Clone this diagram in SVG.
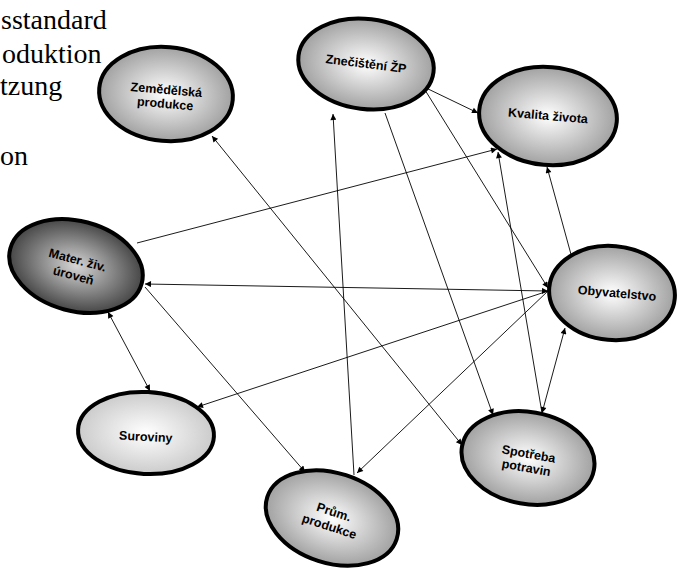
<svg xmlns="http://www.w3.org/2000/svg" width="677" height="572" viewBox="0 0 677 572">
  <style>
    .bg { fill: #ffffff; }
    .side { font-family: "Liberation Serif", "Times New Roman", serif; font-size: 28px; fill: #000; }
    .node ellipse { stroke: #000; stroke-width: 4; }
    .node text { font-family: "Liberation Sans", Arial, sans-serif; font-size: 12.5px; font-weight: bold; fill: #000; text-anchor: middle; }
    .edge { stroke: #000; stroke-width: 0.9; fill: none; marker-end: url(#arrow); }
    .both { marker-start: url(#arrow); }
  </style>
  <defs>
    <radialGradient id="gStd" cx="50%" cy="50%" r="55%">
      <stop offset="0%" stop-color="#ffffff"/>
      <stop offset="100%" stop-color="#989898"/>
    </radialGradient>
    <radialGradient id="gDark" cx="50%" cy="50%" r="55%">
      <stop offset="0%" stop-color="#d6d6d6"/>
      <stop offset="100%" stop-color="#383838"/>
    </radialGradient>
    <radialGradient id="gLight" cx="50%" cy="50%" r="55%">
      <stop offset="0%" stop-color="#ffffff"/>
      <stop offset="100%" stop-color="#c6c6c6"/>
    </radialGradient>
    <marker id="arrow" viewBox="0 0 10 10" refX="10" refY="5" markerWidth="8" markerHeight="6" markerUnits="userSpaceOnUse" orient="auto-start-reverse">
      <path d="M0,0 L10,5 L0,10 z" fill="#000"/>
    </marker>
  </defs>

  <rect class="bg" x="0" y="0" width="677" height="572"/>

  <!-- caption lines at the left edge -->
  <g id="caption">
    <text class="side" x="1" y="29">sstandard</text>
    <text class="side" x="2" y="63">oduktion</text>
    <text class="side" x="0" y="95">tzung</text>
    <text class="side" x="0" y="165">on</text>
  </g>

  <!-- connectors -->
  <g id="connectors">
    <line class="edge both" x1="462" y1="445" x2="212" y2="136"/>
    <line class="edge" x1="424" y1="87" x2="478" y2="113"/>
    <line class="edge" x1="425" y1="90" x2="548" y2="288"/>
    <line class="edge" x1="385" y1="113" x2="493" y2="415"/>
    <line class="edge" x1="354" y1="475" x2="333" y2="114"/>
    <line class="edge" x1="137" y1="243" x2="497" y2="149"/>
    <line class="edge" x1="542" y1="413" x2="498" y2="152"/>
    <line class="edge" x1="572" y1="258" x2="547" y2="167"/>
    <line class="edge both" x1="542" y1="413" x2="565" y2="328"/>
    <line class="edge both" x1="548" y1="291" x2="145" y2="284"/>
    <line class="edge" x1="145" y1="287" x2="305" y2="472"/>
    <line class="edge both" x1="108" y1="312" x2="150" y2="391"/>
    <line class="edge" x1="548" y1="291" x2="197" y2="407"/>
    <line class="edge" x1="548" y1="291" x2="357" y2="473"/>
  </g>

  <!-- nodes -->
  <g id="zemedelska-produkce" class="node" transform="translate(166,94) rotate(5)">
    <ellipse rx="67" ry="47" fill="url(#gStd)"/>
    <text x="0" y="0">Zemědělská</text>
    <text x="0" y="14">produkce</text>
  </g>

  <g id="znecisteni-zp" class="node" transform="translate(366,64) rotate(7)">
    <ellipse rx="68" ry="45" fill="url(#gStd)"/>
    <text x="0" y="4">Znečištění ŽP</text>
  </g>

  <g id="kvalita-zivota" class="node" transform="translate(548,116) rotate(5)">
    <ellipse rx="69" ry="49" fill="url(#gStd)"/>
    <text x="0" y="4">Kvalita života</text>
  </g>

  <g id="mater-ziv-uroven" class="node" transform="translate(76,266) rotate(15)">
    <ellipse rx="68" ry="45" fill="url(#gDark)"/>
    <text x="0" y="-2">Mater. živ.</text>
    <text x="0" y="14">úroveň</text>
  </g>

  <g id="obyvatelstvo" class="node" transform="translate(612,293) rotate(5)">
    <ellipse rx="63" ry="47" fill="url(#gStd)"/>
    <text x="5" y="4">Obyvatelstvo</text>
  </g>

  <g id="suroviny" class="node" transform="translate(146,433) rotate(3)">
    <ellipse rx="68" ry="41" fill="url(#gLight)"/>
    <text x="0" y="8">Suroviny</text>
  </g>

  <g id="spotreba-potravin" class="node" transform="translate(528,458) rotate(10)">
    <ellipse rx="67" ry="46" fill="url(#gStd)"/>
    <text x="0" y="0">Spotřeba</text>
    <text x="0" y="14">potravin</text>
  </g>

  <g id="prum-produkce" class="node" transform="translate(332,518) rotate(18)">
    <ellipse rx="68" ry="45" fill="url(#gStd)"/>
    <text x="0" y="-2">Prům.</text>
    <text x="0" y="13">produkce</text>
  </g>
</svg>
